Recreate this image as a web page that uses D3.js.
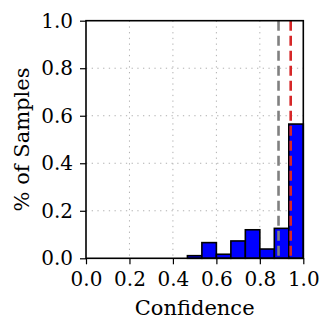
<!DOCTYPE html>
<html lang="en">
<head>
<meta charset="utf-8">
<script src="https://cdn.jsdelivr.net/npm/d3@7"></script>
<style>
  body { margin: 0; background: #fff; }
  text { font-family: "DejaVu Serif", serif; }
</style>
</head>
<body>
<script>
    // Histogram bins (left edges, 15 bins of width 1/15) and share of samples in each
    const binEdges = [0, 0.0667, 0.1333, 0.2, 0.2667, 0.3333, 0.4, 0.4667, 0.5333, 0.6, 0.6667, 0.7333, 0.8, 0.8667, 0.9333, 1.0]
    const shares = [0, 0, 0, 0, 0, 0, 0, 0.011, 0.066, 0.017, 0.073, 0.12, 0.039, 0.126, 0.565]
    // Reference lines (average confidence / accuracy)
    const refLines = [0.886, 0.942]
    const refColors = ['#808080', '#d62728']
    const ticks = [0, 0.2, 0.4, 0.6, 0.8, 1.0]

    const W = 333, H = 333
    const margin = {left: 86, top: 20.7, right: 29.7, bottom: 74.7}
    const w = W - margin.left - margin.right
    const h = H - margin.top - margin.bottom

    const x = d3.scaleLinear().domain([0, 1]).range([0, w])
    const y = d3.scaleLinear().domain([0, 1]).range([h, 0])

    const svg = d3.select('body').append('svg')
        .attr('width', W)
        .attr('height', H)
    const g = svg.append('g')
        .attr('transform', 'translate(' + margin.left + ',' + margin.top + ')')

    // dotted grid
    g.selectAll('line.gx')
        .data(ticks.slice(1, -1))
      .enter().append('line')
        .attr('x1', d => x(d)).attr('x2', d => x(d))
        .attr('y1', 0).attr('y2', h)
        .attr('stroke', '#b0b0b0').attr('stroke-width', 1)
        .attr('stroke-dasharray', '1.3,4.4')
    g.selectAll('line.gy')
        .data(ticks.slice(1, -1))
      .enter().append('line')
        .attr('y1', d => y(d)).attr('y2', d => y(d))
        .attr('x1', 0).attr('x2', w)
        .attr('stroke', '#b0b0b0').attr('stroke-width', 1)
        .attr('stroke-dasharray', '1.3,4.4')

    // bars
    const bins = shares.map((v, i) => ({x0: binEdges[i], x1: binEdges[i + 1], v: v}))
    g.selectAll('rect.bar')
        .data(bins.filter(d => d.v > 0))
      .enter().append('rect')
        .attr('x', d => x(d.x0))
        .attr('width', d => x(d.x1) - x(d.x0))
        .attr('y', d => y(d.v))
        .attr('height', d => y(0) - y(d.v))
        .attr('fill', '#0000ff')
        .attr('stroke', '#000')
        .attr('stroke-width', 1.6)

    // dashed reference lines
    g.selectAll('line.ref')
        .data(refLines)
      .enter().append('line')
        .attr('x1', d => x(d)).attr('x2', d => x(d))
        .attr('y1', 0).attr('y2', h)
        .attr('stroke', (d, i) => refColors[i])
        .attr('stroke-width', 2.6)
        .attr('stroke-dasharray', '10,5')

    // axes
    const fmt = d3.format('.1f')
    const xAxis = g.append('g')
        .attr('transform', 'translate(0,' + h + ')')
        .call(d3.axisBottom(x).tickValues(ticks).tickFormat(fmt).tickSize(6).tickPadding(8))
    const yAxis = g.append('g')
        .call(d3.axisLeft(y).tickValues(ticks).tickFormat(fmt).tickSize(6).tickPadding(7))
    for (const a of [xAxis, yAxis]) {
        a.select('.domain').remove()
        a.selectAll('line').attr('stroke', '#000').attr('stroke-width', 1.2)
        a.selectAll('text').attr('font-size', 20).attr('fill', '#000')
            .style('font-family', '"DejaVu Serif", serif')
    }

    // frame
    g.append('rect')
        .attr('width', w).attr('height', h)
        .attr('fill', 'none')
        .attr('stroke', '#000')
        .attr('stroke-width', 1.6)

    // labels
    svg.append('text')
        .attr('x', margin.left + w / 2)
        .attr('y', 315)
        .attr('text-anchor', 'middle')
        .attr('font-size', 21)
        .text('Confidence')
    svg.append('text')
        .attr('transform', 'translate(29,' + (margin.top + h / 2) + ') rotate(-90)')
        .attr('text-anchor', 'middle')
        .attr('font-size', 21)
        .text('% of Samples')
</script>
</body>
</html>
